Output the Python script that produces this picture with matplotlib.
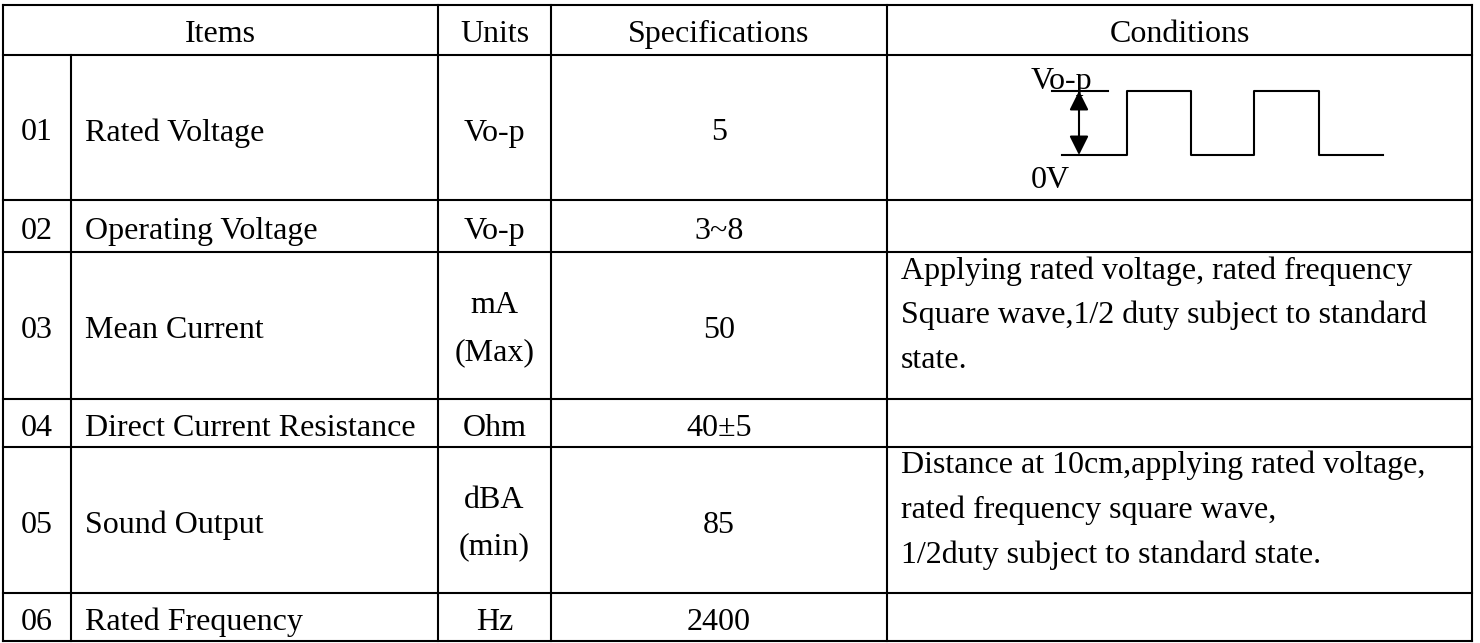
import matplotlib
matplotlib.use("Agg")
import matplotlib.pyplot as plt

# ---- data ----
headers = ["Items", "Units", "Specifications", "Conditions"]
item_nos = ["01", "02", "03", "04", "05", "06"]
item_names = ["Rated Voltage", "Operating Voltage", "Mean Current",
              "Direct Current Resistance", "Sound Output", "Rated Frequency"]
units = [["Vo-p"], ["Vo-p"], ["mA", "(Max)"], ["Ohm"], ["dBA", "(min)"], ["Hz"]]
specs = ["5", "3~8", "50", "40±5", "85", "2400"]
conditions = [
    [],
    [],
    ["Applying rated voltage, rated frequency",
     "Square wave,1/2 duty subject to standard",
     "state."],
    [],
    ["Distance at 10cm,applying rated voltage,",
     "rated frequency square wave,",
     "1/2duty subject to standard state."],
    [],
]
# square wave levels (1 = Vo-p, 0 = 0V) per half period
wave_levels = [0, 1, 0, 1, 0]

# ---- layout (pixels) ----
W, H = 1480, 643
col_x = [3, 71, 438, 551, 887, 1472]
row_y = [5, 55, 200, 252, 399, 447, 593, 641]
LW = 1.5
FONT = "Liberation Serif"
FS = 23
BASE = 13      # baseline offset below cell centre

fig = plt.figure(figsize=(W / 100, H / 100), dpi=100)
ax = fig.add_axes([0, 0, 1, 1])
ax.set_xlim(0, W)
ax.set_ylim(H, 0)
ax.axis("off")

# grid lines
for y in row_y:
    ax.plot([col_x[0], col_x[-1]], [y, y], color="black", lw=LW,
            solid_capstyle="projecting")
for i, x in enumerate(col_x):
    y0 = row_y[0] if i != 1 else row_y[1]
    ax.plot([x, x], [y0, row_y[-1]], color="black", lw=LW,
            solid_capstyle="projecting")

def txt(x, y, s, ha="center"):
    ax.text(x, y, s, ha=ha, va="baseline", fontsize=FS, family=FONT,
            color="black")

# header
hy = (row_y[0] + row_y[1]) / 2 + 12
txt((col_x[0] + col_x[2]) / 2, hy, headers[0])
txt((col_x[2] + col_x[3]) / 2, hy, headers[1])
txt((col_x[3] + col_x[4]) / 2, hy, headers[2])
txt((col_x[4] + col_x[5]) / 2, hy, headers[3])

for r in range(len(item_nos)):
    y0, y1 = row_y[r + 1], row_y[r + 2]
    yc = (y0 + y1) / 2
    txt((col_x[0] + col_x[1]) / 2, yc + BASE, item_nos[r])
    txt(col_x[1] + 14, yc + BASE, item_names[r], ha="left")
    u = units[r]
    n = len(u)
    ub = BASE if n == 1 else 11
    for k, line in enumerate(u):
        txt((col_x[2] + col_x[3]) / 2, yc + ub + (k - (n - 1) / 2) * 47, line)
    txt((col_x[3] + col_x[4]) / 2, yc + BASE, specs[r])
    cond = conditions[r]
    n = len(cond)
    for k, line in enumerate(cond):
        txt(col_x[4] + 14, yc - 2 + (k - (n - 1) / 2) * 45, line, ha="left")

# ---- waveform diagram in row 01 conditions cell ----
y_hi, y_lo = 91, 155
x_edges = [1062, 1127, 1191, 1254, 1319, 1383]
xs, ys = [], []
for k, lev in enumerate(wave_levels):
    yv = y_hi if lev else y_lo
    xs += [x_edges[k], x_edges[k + 1]]
    ys += [yv, yv]
ax.plot(xs, ys, color="black", lw=LW)
# Vo-p reference line
ax.plot([1052, 1108], [y_hi, y_hi], color="black", lw=LW)
# double arrow
ax.annotate("", xy=(1079, y_hi), xytext=(1079, y_lo),
            arrowprops=dict(arrowstyle="<|-|>", color="black", lw=LW,
                            mutation_scale=29, shrinkA=0, shrinkB=0))
ax.text(1031, 89, "Vo-p", ha="left", va="baseline", fontsize=FS, family=FONT)
ax.text(1031, 188, "0V", ha="left", va="baseline", fontsize=FS, family=FONT)

fig.savefig("out.png", dpi=100)
